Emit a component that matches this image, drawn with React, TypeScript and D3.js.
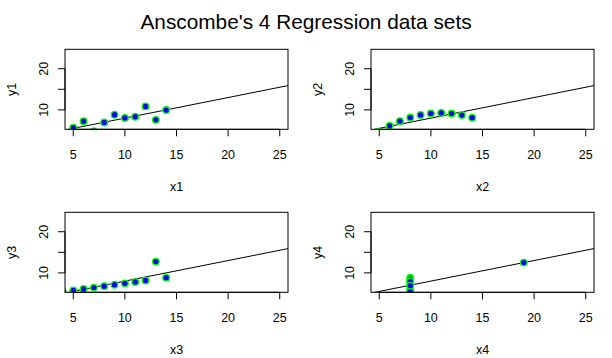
import { useEffect, useRef } from 'react';
import * as d3 from 'd3';

// Anscombe's quartet
const x123 = [10, 8, 13, 9, 11, 14, 6, 4, 12, 7, 5];
const y1 = [8.04, 6.95, 7.58, 8.81, 8.33, 9.96, 7.24, 4.26, 10.84, 4.82, 5.68];
const y2 = [9.14, 8.14, 8.74, 8.77, 9.26, 8.1, 6.13, 3.1, 9.13, 7.26, 4.74];
const y3 = [7.46, 6.77, 12.74, 7.11, 7.81, 8.84, 6.08, 5.39, 8.15, 6.42, 5.73];
const x4 = [8, 8, 8, 8, 8, 8, 8, 19, 8, 8, 8];
const y4 = [6.58, 5.76, 7.71, 8.84, 8.47, 7.04, 5.25, 12.5, 5.56, 7.91, 6.89];

const xNames = ['x1', 'x2', 'x3', 'x4'];
const yNames = ['y1', 'y2', 'y3', 'y4'];
const xTicks = [5, 10, 15, 20, 25];
const yTicks = [10, 15, 20];
const yTickLabels = ['10', '', '20']; // R drops the "15" label (overlap)
const title = "Anscombe's 4 Regression data sets";

const xLim = [5, 25];
const yLim = [6, 24];

export default function App() {
  const svgRef = useRef<SVGSVGElement>(null);

  useEffect(() => {
    if (!svgRef.current) return;
    const svg = d3.select(svgRef.current);
    svg.selectAll('*').remove();

    const W = 612, H = 358;
    svg.attr('width', W).attr('height', H);
    svg.append('rect').attr('width', W).attr('height', H).attr('fill', 'white');

    const font = 'Liberation Sans, Arial, sans-serif';

    svg.append('text')
      .attr('x', 306).attr('y', 29)
      .attr('text-anchor', 'middle')
      .attr('font-family', font).attr('font-size', 20.8)
      .text(title);

    const sets = [
      { x: x123, y: y1 },
      { x: x123, y: y2 },
      { x: x123, y: y3 },
      { x: x4, y: y4 },
    ];

    // plot box positions
    const boxes = [
      { left: 65, top: 49.3 },
      { left: 371, top: 49.3 },
      { left: 65, top: 212.3 },
      { left: 371, top: 212.3 },
    ];
    const bw = 223, bh = 80;

    const padX = (xLim[1] - xLim[0]) * 0.04;
    const padY = (yLim[1] - yLim[0]) * 0.04;

    sets.forEach((s, i) => {
      const { left, top } = boxes[i];
      const x = d3.scaleLinear().domain([xLim[0] - padX, xLim[1] + padX]).range([left, left + bw]);
      const y = d3.scaleLinear().domain([yLim[0] - padY, yLim[1] + padY]).range([top + bh, top]);

      const clipId = `clip${i}`;
      svg.append('clipPath').attr('id', clipId)
        .append('rect').attr('x', left).attr('y', top).attr('width', bw).attr('height', bh);

      const g = svg.append('g');
      const plot = g.append('g').attr('clip-path', `url(#${clipId})`);

      // least-squares fit
      const mx = d3.mean(s.x) as number;
      const my = d3.mean(s.y) as number;
      let sxy = 0, sxx = 0;
      s.x.forEach((xv, k) => { sxy += (xv - mx) * (s.y[k] - my); sxx += (xv - mx) ** 2; });
      const b = sxy / sxx;
      const a = my - b * mx;
      const [d0, d1] = x.domain();

      plot.append('line')
        .attr('x1', x(d0)).attr('y1', y(a + b * d0))
        .attr('x2', x(d1)).attr('y2', y(a + b * d1))
        .attr('stroke', 'black').attr('stroke-width', 1);

      plot.selectAll('circle')
        .data(s.x.map((xv, k) => ({ xv, yv: s.y[k] })))
        .join('circle')
        .attr('cx', d => x(d.xv))
        .attr('cy', d => y(d.yv))
        .attr('r', 3.3)
        .attr('fill', '#0000ff')
        .attr('stroke', '#00ff00')
        .attr('stroke-width', 1.3);

      g.append('rect')
        .attr('x', left).attr('y', top).attr('width', bw).attr('height', bh)
        .attr('fill', 'none').attr('stroke', 'black').attr('stroke-width', 1);

      // x axis
      const xb = top + bh;
      g.append('line')
        .attr('x1', x(xTicks[0])).attr('x2', x(xTicks[xTicks.length - 1]))
        .attr('y1', xb).attr('y2', xb).attr('stroke', 'black');
      xTicks.forEach(t => {
        g.append('line').attr('x1', x(t)).attr('x2', x(t))
          .attr('y1', xb).attr('y2', xb + 7).attr('stroke', 'black');
        g.append('text').attr('x', x(t)).attr('y', xb + 30)
          .attr('text-anchor', 'middle')
          .attr('font-family', font).attr('font-size', 12.5)
          .text(String(t));
      });
      g.append('text').attr('x', left + bw / 2).attr('y', xb + 62)
        .attr('text-anchor', 'middle')
        .attr('font-family', font).attr('font-size', 12.5)
        .text(xNames[i]);

      // y axis
      g.append('line')
        .attr('x1', left).attr('x2', left)
        .attr('y1', y(yTicks[0])).attr('y2', y(yTicks[yTicks.length - 1])).attr('stroke', 'black');
      yTicks.forEach((t, k) => {
        g.append('line').attr('x1', left).attr('x2', left - 7)
          .attr('y1', y(t)).attr('y2', y(t)).attr('stroke', 'black');
        if (yTickLabels[k]) {
          g.append('text')
            .attr('transform', `translate(${left - 17},${y(t)}) rotate(-90)`)
            .attr('text-anchor', 'middle')
            .attr('font-family', font).attr('font-size', 12.5)
            .text(yTickLabels[k]);
        }
      });
      g.append('text')
        .attr('transform', `translate(${left - 49},${top + bh / 2}) rotate(-90)`)
        .attr('text-anchor', 'middle')
        .attr('font-family', font).attr('font-size', 12.5)
        .text(yNames[i]);
    });
  }, []);

  return (
    <div style={{ position: 'absolute', left: 0, top: 0 }}>
      <svg ref={svgRef} style={{ display: 'block' }} />
    </div>
  );
}
